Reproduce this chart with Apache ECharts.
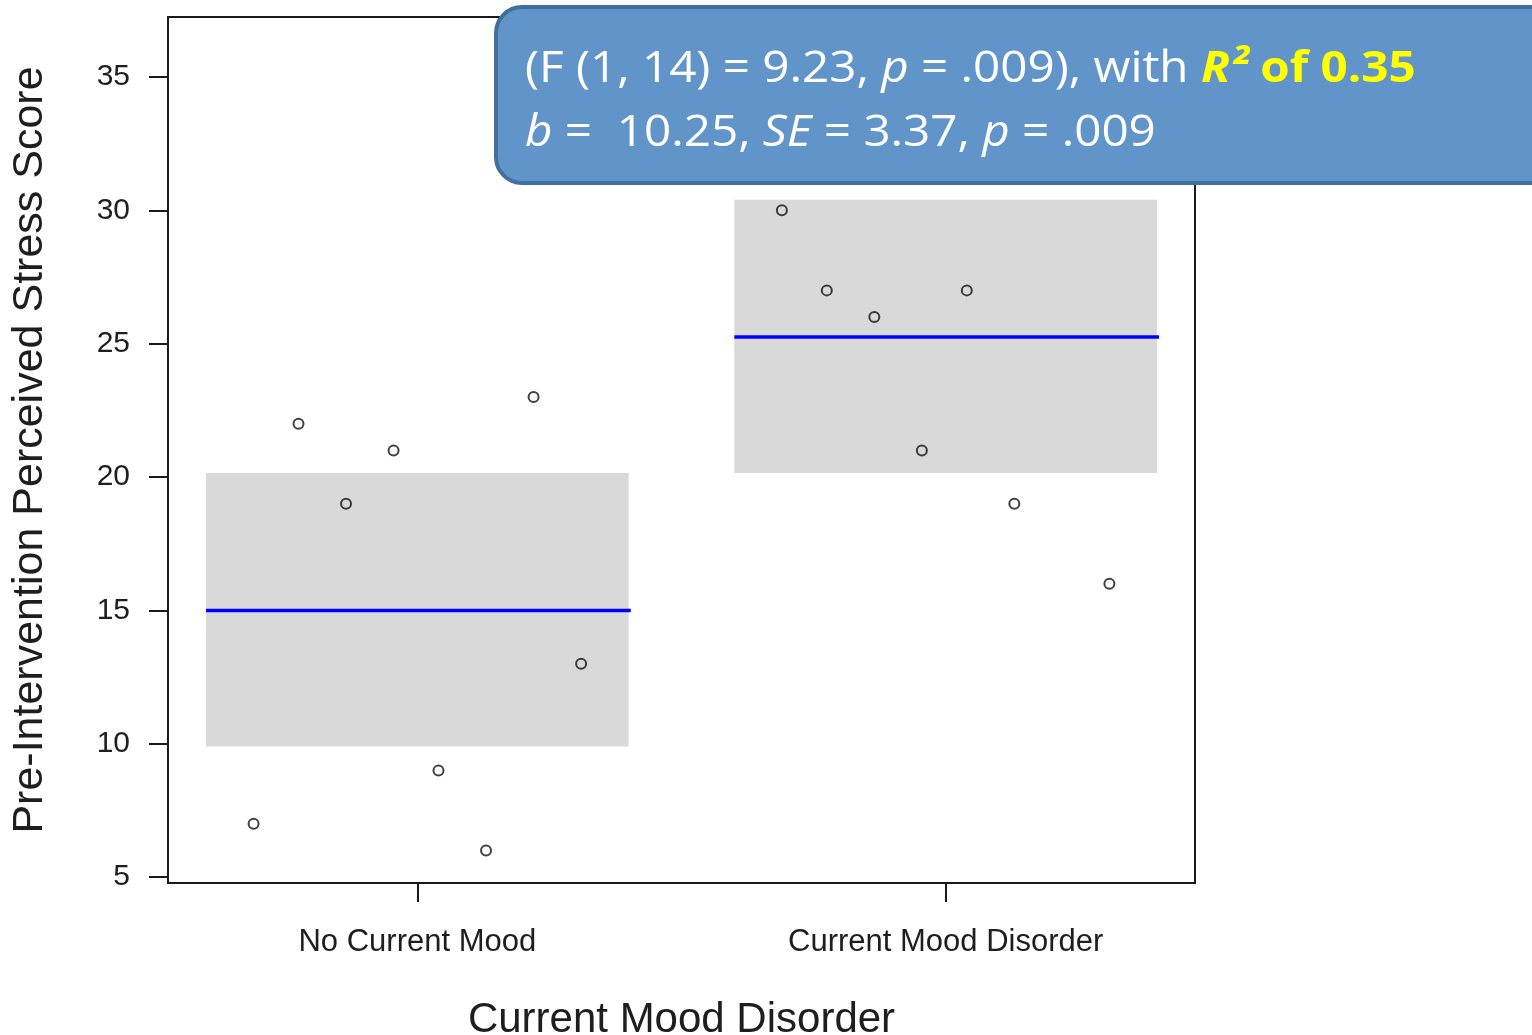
<!DOCTYPE html>
<html>
<head>
<meta charset="utf-8">
<script src="https://cdn.jsdelivr.net/npm/echarts@6/dist/echarts.min.js"></script>
<style>
  html, body { margin: 0; padding: 0; background: #fff; }
  #chart { width: 1532px; height: 1035px; }
</style>
</head>
<body>
<div id="chart"></div>
<script>
// Group labels and positions on the x scale
const categories = ['No Current Mood', 'Current Mood Disorder'];
const groupPos = [1, 2];
// Horizontal spread of the individual points around each group position
const jitterOffsets = [-0.31, -0.225, -0.135, -0.045, 0.04, 0.13, 0.22, 0.31];
// Individual pre-intervention perceived stress scores
const noMoodScores = [7, 22, 19, 21, 9, 6, 23, 13];
const moodScores = [30, 27, 26, 21, 27, 19, 36, 16];
// Group means with 95% confidence bounds
const groupMeans = [15, 25.25];
const ciLower = [9.9, 20.15];
const ciUpper = [20.15, 30.4];
// Axis ticks
const yTicks = [5, 10, 15, 20, 25, 30, 35];

const FONT = '"Liberation Sans", Arial, sans-serif';
const NOTE_FONT = '"Open Sans", sans-serif';
const INK = '#1e1e1e';

const scoreGroups = [noMoodScores, moodScores];
const pointData = [];
scoreGroups.forEach((scores, g) => {
  scores.forEach((v, i) => pointData.push([groupPos[g] + jitterOffsets[i], v]));
});
const bandData = groupPos.map((x, g) => [x, ciLower[g], ciUpper[g], groupMeans[g]]);

const chart = echarts.init(document.getElementById('chart'), null, { renderer: 'canvas' });

chart.setOption({
  animation: false,
  backgroundColor: '#ffffff',
  grid: {
    left: 168, top: 17, width: 1027, height: 866,
    outerBoundsMode: 'none',
    containLabel: false,
    show: true, borderColor: '#1a1a1a', borderWidth: 2, backgroundColor: 'transparent'
  },
  xAxis: {
    type: 'value',
    min: 0.528, max: 2.472,
    splitLine: { show: false },
    axisLine: { show: true, onZero: false, lineStyle: { color: '#1a1a1a', width: 2 } },
    axisTick: { show: true, length: 19, lineStyle: { color: '#1a1a1a', width: 2 }, customValues: groupPos },
    axisLabel: {
      customValues: groupPos,
      margin: 44,
      color: INK, fontFamily: FONT, fontSize: 31,
      formatter: v => categories[groupPos.indexOf(v)] || ''
    },
    name: 'Current Mood Disorder',
    nameLocation: 'middle',
    nameGap: 116,
    nameTextStyle: { color: INK, fontFamily: FONT, fontSize: 42 }
  },
  yAxis: {
    type: 'value',
    min: 4.78, max: 37.25,
    splitLine: { show: false },
    axisLine: { show: true, onZero: false, lineStyle: { color: '#1a1a1a', width: 2 } },
    axisTick: { show: true, length: 19, lineStyle: { color: '#1a1a1a', width: 2 }, customValues: yTicks },
    axisLabel: {
      customValues: yTicks,
      margin: 38,
      color: INK, fontFamily: FONT, fontSize: 30
    },
    name: 'Pre-Intervention Perceived Stress Score',
    nameLocation: 'middle',
    nameGap: 116,
    nameTextStyle: { color: INK, fontFamily: FONT, fontSize: 43 }
  },
  series: [
    {
      type: 'custom',
      data: bandData,
      encode: { x: 0, y: [1, 2, 3] },
      z: 1,
      renderItem: function (params, api) {
        const x = api.value(0), lo = api.value(1), hi = api.value(2), m = api.value(3);
        const a = api.coord([x - 0.4, hi]);
        const b = api.coord([x + 0.4, lo]);
        const l1 = api.coord([x - 0.4, m]);
        const l2 = api.coord([x + 0.404, m]);
        return {
          type: 'group',
          children: [
            { type: 'rect', shape: { x: a[0], y: a[1], width: b[0] - a[0], height: b[1] - a[1] },
              style: { fill: '#d9d9d9' } },
            { type: 'line', shape: { x1: l1[0], y1: l1[1], x2: l2[0], y2: l2[1] },
              style: { stroke: '#0000ff', lineWidth: 3.5 } }
          ]
        };
      }
    },
    {
      type: 'scatter',
      data: pointData,
      z: 3,
      symbol: 'circle',
      symbolSize: 10,
      itemStyle: { color: 'rgba(0,0,0,0)', borderColor: '#111', borderWidth: 2 }
    }
  ],
  graphic: [
    {
      type: 'rect',
      z: 100,
      shape: { x: 496, y: 7, width: 1060, height: 176, r: 26 },
      style: { fill: '#6195c9', stroke: '#41709f', lineWidth: 4 }
    },
    {
      type: 'text',
      z: 101,
      x: 525, y: 38,
      scaleX: 1.107,
      style: {
        text: '{n|(F (1, 14) = 9.23, }{i|p}{n| = .009), with }{b|R²}{bb| of 0.35}\n{i|b}{n| =  10.25, }{i|SE}{n| = 3.37, }{i|p}{n| = .009}',
        fill: '#ffffff',
        fontFamily: NOTE_FONT,
        fontSize: 43,
        lineHeight: 64,
        rich: {
          n: { fill: '#ffffff', fontFamily: NOTE_FONT, fontSize: 43, lineHeight: 64 },
          i: { fill: '#ffffff', fontFamily: NOTE_FONT, fontSize: 43, fontStyle: 'italic', lineHeight: 64 },
          b: { fill: '#ffff00', fontFamily: NOTE_FONT, fontSize: 43, fontStyle: 'italic', fontWeight: 'bold', lineHeight: 64 },
          bb: { fill: '#ffff00', fontFamily: NOTE_FONT, fontSize: 43, fontWeight: 'bold', lineHeight: 64 }
        }
      }
    }
  ]
});
</script>
</body>
</html>
